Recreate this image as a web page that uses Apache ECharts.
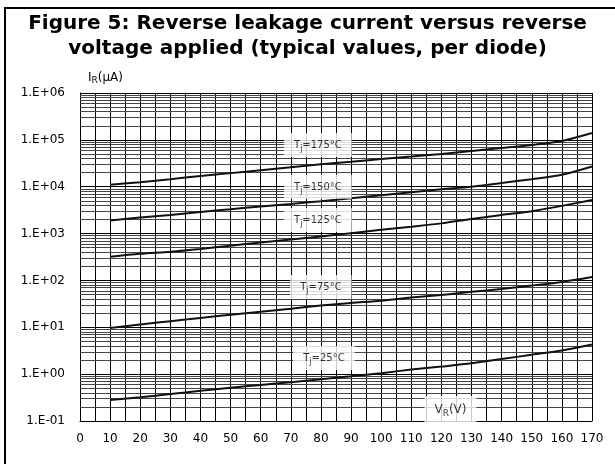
<!DOCTYPE html>
<html>
<head>
<meta charset="utf-8">
<script src="https://cdn.jsdelivr.net/npm/echarts@6/dist/echarts.min.js"></script>
<style>
  html, body { margin: 0; padding: 0; background: #fff; }
  #chart { width: 615px; height: 464px; }
  #frame { position: absolute; left: 4px; top: 7px; width: 620px; height: 470px;
           border-left: 2px solid #000; border-top: 2px solid #000; pointer-events: none; }
</style>
</head>
<body>
<div id="chart"></div>
<div id="frame"></div>
<script>
// reverse voltage, V
const voltages = [10, 20, 30, 40, 50, 60, 70, 80, 90, 100, 110, 120, 130, 140, 150, 160, 170];

// reverse leakage current, µA, per junction temperature
const ir175 = [1.1e4, 1.25e4, 1.45e4, 1.7e4, 1.95e4, 2.25e4, 2.6e4, 3.0e4, 3.4e4, 3.9e4, 4.4e4, 5.0e4, 5.8e4, 6.7e4, 7.8e4, 9.5e4, 1.4e5];
const ir150 = [1.9e3, 2.2e3, 2.5e3, 2.9e3, 3.3e3, 3.8e3, 4.3e3, 4.9e3, 5.7e3, 6.6e3, 7.6e3, 8.8e3, 1.0e4, 1.2e4, 1.45e4, 1.8e4, 2.7e4];
const ir125 = [320, 370, 410, 470, 550, 645, 750, 870, 1020, 1200, 1400, 1650, 2050, 2500, 3000, 3900, 5200];
const ir75 = [9.7, 11.5, 13.5, 15.8, 18.5, 21.5, 25, 29, 33, 37, 43, 49, 57, 66, 78, 93, 118];
const ir25 = [0.28, 0.32, 0.375, 0.44, 0.51, 0.59, 0.67, 0.78, 0.9, 1.05, 1.25, 1.45, 1.7, 2.1, 2.6, 3.2, 4.3];

// y tick decades and x ticks
const yTicks = [0.1, 1, 10, 100, 1e3, 1e4, 1e5, 1e6];
const xTicks = [0, 10, 20, 30, 40, 50, 60, 70, 80, 90, 100, 110, 120, 130, 140, 150, 160, 170];

// curve annotations: [V, I, text]
const curveLabels = [
  [79, 7.8e4, 'T{sub|j}=175°C'],
  [79, 1.0e4, 'T{sub|j}=150°C'],
  [79, 1.95e3, 'T{sub|j}=125°C'],
  [80, 72, 'T{sub|j}=75°C'],
  [81, 2.2, 'T{sub|j}=25°C'],
  [123, 0.18, '{vr|V}{vsub|R}{vr|(V)}']
];

const font = 'DejaVu Sans, sans-serif';

// minor log grid lines 2..9 x 10^n
const minorLines = [];
for (let i = 0; i < yTicks.length - 1; i++) {
  for (let m = 2; m <= 9; m++) minorLines.push({ yAxis: yTicks[i] * m });
}

function fmtExp(v) {
  const e = Math.round(Math.log10(v));
  const s = e < 0 ? '-' : '+';
  return '1.E' + s + String(Math.abs(e)).padStart(2, '0');
}

const chart = echarts.init(document.getElementById('chart'));

const curves = [ir175, ir150, ir125, ir75, ir25].map(arr => ({
  type: 'line',
  data: voltages.map((v, i) => [v, arr[i]]),
  smooth: 0.3,
  showSymbol: false,
  silent: true,
  z: 5,
  lineStyle: { color: '#111', width: 2 }
}));

const option = {
  animation: false,
  backgroundColor: '#fff',
  title: {
    text: 'Figure 5: Reverse leakage current versus reverse\nvoltage applied (typical values, per diode)',
    left: 'center',
    top: 6,
    textStyle: { fontFamily: font, fontSize: 20, fontWeight: 'bold', color: '#000', lineHeight: 25 }
  },
  grid: { left: 80, right: 23, top: 93, bottom: 43, containLabel: false },
  xAxis: {
    type: 'value',
    min: 0,
    max: 170,
    interval: 10,
    axisLine: { show: true, onZero: false, lineStyle: { color: '#000', width: 1 } },
    axisTick: { show: false },
    axisLabel: { color: '#000', fontFamily: font, fontSize: 12, margin: 12 },
    splitLine: { show: true, lineStyle: { color: '#000', width: 1 } },
    minorTick: { show: false, splitNumber: 2 },
    minorSplitLine: { show: true, lineStyle: { color: '#000', width: 1 } }
  },
  yAxis: {
    type: 'log',
    logBase: 10,
    min: yTicks[0],
    max: yTicks[yTicks.length - 1],
    name: 'I{sub|R}(µA)',
    nameLocation: 'end',
    nameGap: 8,
    nameTextStyle: {
      align: 'left', padding: [0, 0, 0, 8], color: '#000', fontFamily: font, fontSize: 12,
      rich: { sub: { fontSize: 9, verticalAlign: 'bottom', padding: [6, 0, 0, 0], fontFamily: font, color: '#000' } }
    },
    axisLine: { show: true, lineStyle: { color: '#000', width: 1 } },
    axisTick: { show: false },
    axisLabel: { color: '#000', fontFamily: font, fontSize: 12, margin: 15, formatter: fmtExp },
    splitLine: { show: true, lineStyle: { color: '#000', width: 1 } }
  },
  series: [
    {
      type: 'line',
      data: [],
      silent: true,
      markLine: {
        silent: true,
        symbol: 'none',
        label: { show: false },
        lineStyle: { color: '#444', width: 1, type: 'solid' },
        data: minorLines
      }
    },
    ...curves,
    {
      type: 'scatter',
      symbolSize: 0,
      silent: true,
      z: 10,
      data: curveLabels.map(d => ({ value: [d[0], d[1]], name: d[2] })),
      label: {
        show: true,
        position: 'inside',
        formatter: p => p.name,
        backgroundColor: '#fff',
        padding: [5, 10, 4, 10],
        color: '#000',
        fontFamily: font,
        fontSize: 10,
        rich: {
          sub: { fontSize: 8, padding: [7, 0, 0, 0], color: '#000', fontFamily: font },
          vr: { fontSize: 12, color: '#000', fontFamily: font },
          vsub: { fontSize: 9, padding: [8, 0, 0, 0], color: '#000', fontFamily: font }
        }
      }
    }
  ]
};

chart.setOption(option);
</script>
</body>
</html>
